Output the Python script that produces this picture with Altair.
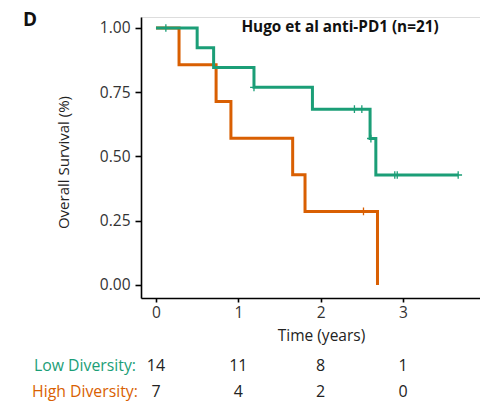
import altair as alt
import pandas as pd

# Kaplan-Meier step curves
low_times = [0.0, 0.50, 0.70, 1.19, 1.90, 2.60, 2.67, 3.67]
low_surv = [1.0, 0.923, 0.846, 0.769, 0.684, 0.570, 0.428, 0.428]
low_cens_times = [0.12, 1.19, 2.41, 2.50, 2.61, 2.90, 2.93, 3.67]
low_cens_surv = [1.0, 0.769, 0.684, 0.684, 0.570, 0.428, 0.428, 0.428]

high_times = [0.0, 0.28, 0.73, 0.91, 1.66, 1.81, 2.69]
high_surv = [1.0, 0.857, 0.714, 0.571, 0.429, 0.286, 0.0]
high_cens_times = [2.52]
high_cens_surv = [0.286]

risk_times = [0, 1, 2, 3]
low_risk = [14, 11, 8, 1]
high_risk = [7, 4, 2, 0]

GREEN = "#1b9e77"
ORANGE = "#d95f02"
FONT = "Open Sans"

low_df = pd.DataFrame({"time": low_times, "surv": low_surv})
high_df = pd.DataFrame({"time": high_times, "surv": high_surv})
low_c = pd.DataFrame({"time": low_cens_times, "surv": low_cens_surv})
high_c = pd.DataFrame({"time": high_cens_times, "surv": high_cens_surv})
low_r = pd.DataFrame({"time": risk_times, "n": low_risk})
high_r = pd.DataFrame({"time": risk_times, "n": high_risk})

xscale = alt.Scale(domain=[-0.182, 3.935], nice=False, zero=False)
yscale = alt.Scale(domain=[-0.0506, 1.0428], nice=False, zero=False)

xaxis = alt.Axis(values=[0, 1, 2, 3], format="d", title="Time (years)",
                 grid=False, domainColor="black", domainWidth=1.6,
                 tickColor="black", tickWidth=1.6, tickSize=4,
                 labelFontSize=15.5, labelColor="#333", labelFont=FONT, labelPadding=3,
                 titleFont=FONT, titleFontSize=15.5, titleFontWeight="normal",
                 titleColor="#222", titleX=180, titleY=37, titleBaseline="middle",
                 titleAlign="center")
yaxis = alt.Axis(values=[0, 0.25, 0.5, 0.75, 1.0], format=".2f",
                 title="Overall Survival (%)",
                 grid=False, domainColor="black", domainWidth=1.6,
                 tickColor="black", tickWidth=1.6, tickSize=6,
                 labelFontSize=15.5, labelColor="#333", labelFont=FONT, labelPadding=5,
                 titleFont=FONT, titleFontSize=15, titleFontWeight="normal",
                 titleColor="#222", titleX=-78, titleY=145, titleAngle=-90,
                 titleBaseline="middle", titleAlign="center")

high_line = alt.Chart(high_df).mark_line(interpolate="step-after", color=ORANGE,
                                         strokeWidth=3).encode(
    x=alt.X("time:Q", scale=xscale, axis=xaxis),
    y=alt.Y("surv:Q", scale=yscale, axis=yaxis),
)
low_line = alt.Chart(low_df).mark_line(interpolate="step-after", color=GREEN,
                                       strokeWidth=3).encode(
    x=alt.X("time:Q", scale=xscale),
    y=alt.Y("surv:Q", scale=yscale),
)
plus = "M-1,0L1,0M0,-1L0,1"
high_cens = alt.Chart(high_c).mark_point(shape=plus, stroke=ORANGE, strokeWidth=1.3,
                                         size=60, filled=False, opacity=1).encode(
    x="time:Q", y="surv:Q")
low_cens = alt.Chart(low_c).mark_point(shape=plus, stroke=GREEN, strokeWidth=1.3,
                                       size=60, filled=False, opacity=1).encode(
    x="time:Q", y="surv:Q")

low_nums = alt.Chart(low_r).mark_text(font=FONT, fontSize=16, color="#222",
                                      baseline="middle", align="center").encode(
    x="time:Q", y=alt.value(349), text="n:Q")
high_nums = alt.Chart(high_r).mark_text(font=FONT, fontSize=16, color="#222",
                                        baseline="middle", align="center").encode(
    x="time:Q", y=alt.value(375), text="n:Q")

low_lbl = alt.Chart(pd.DataFrame({"t": ["Low Diversity:"]})).mark_text(
    font=FONT, fontSize=15.8, color=GREEN, align="left", baseline="middle").encode(
    x=alt.value(-107), y=alt.value(349), text="t:N")
high_lbl = alt.Chart(pd.DataFrame({"t": ["High Diversity:"]})).mark_text(
    font=FONT, fontSize=15.8, color=ORANGE, align="left", baseline="middle").encode(
    x=alt.value(-109), y=alt.value(375), text="t:N")

title_txt = alt.Chart(pd.DataFrame({"t": ["Hugo et al anti-PD1 (n=21)"]})).mark_text(
    font=FONT, fontSize=15.3, fontWeight="bold", color="#111", align="center",
    baseline="middle").encode(x=alt.value(199), y=alt.value(10), text="t:N")
panel_txt = alt.Chart(pd.DataFrame({"t": ["D"]})).mark_text(
    font=FONT, fontSize=19, fontWeight="bold", color="#111", align="center",
    baseline="middle").encode(x=alt.value(-111), y=alt.value(3), text="t:N")

chart = alt.layer(
    high_line, low_line, high_cens, low_cens,
    low_nums, high_nums, low_lbl, high_lbl, title_txt, panel_txt
).properties(
    width=339, height=281,
    padding={"left": 141, "top": 17, "right": 0, "bottom": 105},
    autosize="none",
).configure_view(stroke=None).configure(background="white")

chart.save("out.html", embed_options={"renderer": "svg", "actions": False})
